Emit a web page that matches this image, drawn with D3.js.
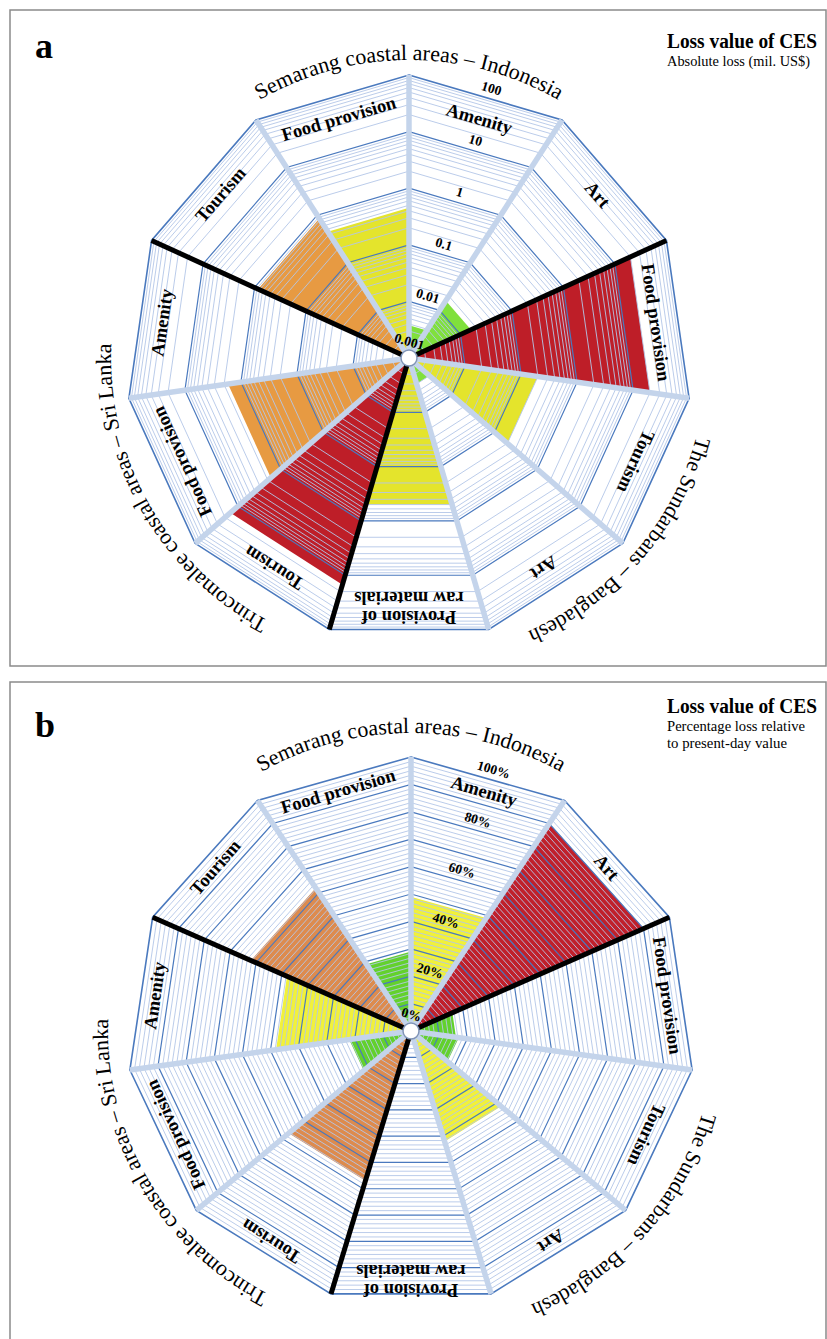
<!DOCTYPE html>
<html>
<head>
<meta charset="utf-8">
<script src="https://cdn.jsdelivr.net/npm/d3@7"></script>
<style>
  body { margin: 0; background: #fff; }
  svg text { font-family: "Liberation Serif", "Times New Roman", serif; }
</style>
</head>
<body>
<div id="chart"></div>
<script>
// sectors, clockwise from 12 o'clock
const sectorNames = ['Amenity', 'Art', 'Food provision', 'Tourism', 'Art',
  ['Provision of', 'raw materials'], 'Tourism', 'Food provision', 'Amenity', 'Tourism', 'Food provision']
const regionNames = ['Semarang coastal areas \u2013 Indonesia', 'The Sundarbans \u2013 Bangladesh',
  'Trincomalee coastal areas \u2013 Sri Lanka']
const regionSectors = [[9, 10, 0, 1], [2, 3, 4, 5], [6, 7, 8]]

// panel a: absolute loss (mil. US$), log scale
const absoluteLoss = [0.0038, 0.016, 20, 0.2, 0.003, 0.5, 15, 1.7, null, 0.85, 0.45]
const absoluteClass = ['green', 'green', 'red', 'yellow', 'green', 'yellow', 'red', 'orange', null, 'orange', 'yellow']
const absoluteTicks = [0.001, 0.01, 0.1, 1, 10, 100]
const absoluteTickLabels = ['0.001', '0.01', '0.1', '1', '10', '100']

// panel b: percentage loss relative to present-day value
const percentLoss = [49, 90, 16, 17, 42, null, 57, 22, 48, 62, 29]
const percentClass = ['yellow', 'red', 'green', 'green', 'yellow', null, 'orange', 'green', 'yellow', 'orange', 'green']
const percentTicks = [0, 20, 40, 60, 80, 100]
const percentTickLabels = ['0%', '20%', '40%', '60%', '80%', '100%']

const N = sectorNames.length
const step = 2 * Math.PI / N
const deg = 180 / Math.PI

const svg = d3.select('#chart')
    .append('svg')
    .attr('width', 827)
    .attr('height', 1339)

function drawPanel(p) {
    const g = svg.append('g')
    const pt = (a, t) => [p.cx + t * p.rx * Math.sin(a), p.cy - t * p.ry * Math.cos(a)]
    const ring = t => 'M' + d3.range(N).map(i => pt(i * step, t).join(',')).join('L') + 'Z'
    const boundaries = regionSectors.map(s => s[0])

    g.append('rect')
        .attr('x', 10).attr('y', p.frameY)
        .attr('width', 816).attr('height', p.frameH)
        .attr('fill', 'none').attr('stroke', '#8a8a8a').attr('stroke-width', 1.5)

    // filled wedges
    const fills = p.values.map((v, i) => ({ v, i, c: p.classes[i] })).filter(d => d.v != null)
    g.selectAll('path.wedge')
        .data(fills)
        .join('path')
        .attr('class', 'wedge')
        .attr('d', d => {
            const t = p.scale(d.v)
            return 'M' + [p.cx, p.cy] + 'L' + pt(d.i * step, t) + 'L' + pt((d.i + 1) * step, t) + 'Z'
        })
        .attr('fill', d => p.palette[d.c])

    // grid rings
    g.selectAll('path.minor')
        .data(p.minor)
        .join('path')
        .attr('d', v => ring(p.scale(v)))
        .attr('fill', 'none').attr('stroke', '#b3c6e8').attr('stroke-width', 0.9)

    g.selectAll('path.major')
        .data(p.major)
        .join('path')
        .attr('d', v => ring(p.scale(v)))
        .attr('fill', 'none').attr('stroke', '#4a79be')
        .attr('stroke-width', v => p.scale(v) >= 0.999 ? 1.6 : 1.2)

    // spokes, region boundaries in black on top
    const order = d3.range(N).sort((a, b) => boundaries.includes(a) - boundaries.includes(b))
    g.selectAll('line.spoke')
        .data(order)
        .join('line')
        .attr('x1', p.cx).attr('y1', p.cy)
        .attr('x2', i => pt(i * step, 1)[0])
        .attr('y2', i => pt(i * step, 1)[1])
        .attr('stroke', i => boundaries.includes(i) ? '#000' : '#c4d4eb')
        .attr('stroke-width', i => boundaries.includes(i) ? 5 : 5.5)

    g.append('circle')
        .attr('cx', p.cx).attr('cy', p.cy).attr('r', 8)
        .attr('fill', '#fff').attr('stroke', '#8094b6').attr('stroke-width', 1.5)

    // tick labels in the first sector
    const half = Math.cos(step / 2)
    g.selectAll('text.tick')
        .data(p.ticks)
        .join('text')
        .attr('transform', (v, k) => {
            const t = p.scale(v)
            const pos = t === 0 ? pt(0, 15 / p.ry) : pt(17 / deg, t * half + 9 / p.ry)
            return `translate(${pos}) rotate(16.4)`
        })
        .attr('text-anchor', 'middle')
        .attr('dominant-baseline', 'middle')
        .attr('font-size', 13.5).attr('font-weight', 'bold')
        .text((v, k) => p.tickLabels[k])

    // sector names
    const sl = g.selectAll('text.sector')
        .data(sectorNames)
        .join('text')
        .attr('transform', (d, i) => {
            const a = (i + 0.5) * step
            return `translate(${pt(a, p.labelT)}) rotate(${a * deg})`
        })
        .attr('text-anchor', 'middle')
        .attr('dominant-baseline', 'middle')
        .attr('font-size', 18.5).attr('font-weight', 'bold')
    sl.filter(d => typeof d === 'string').text(d => d)
    sl.filter(d => typeof d !== 'string').selectAll('tspan')
        .data(d => d)
        .join('tspan')
        .attr('x', 0)
        .attr('y', (d, k) => k === 0 ? -9.5 : 9.5)
        .text(d => d)

    // region names on arcs
    regionNames.forEach((name, k) => {
        const s = regionSectors[k]
        const c = (s[0] + s.length / 2) * step + p.regionShift[k] / deg
        const q = a => [p.cx + p.lrx * Math.sin(a), p.cy - p.lry * Math.cos(a)]
        const id = `arc-${p.id}-${k}`
        g.append('path')
            .attr('id', id)
            .attr('fill', 'none')
            .attr('d', `M${q(c - 1.5)}A${p.lrx},${p.lry} 0 0 1 ${q(c + 1.5)}`)
        g.append('text')
            .attr('font-size', 22)
            .append('textPath')
            .attr('href', '#' + id)
            .attr('startOffset', '50%')
            .attr('text-anchor', 'middle')
            .text(name)
    })

    g.append('text')
        .attr('x', 35).attr('y', p.letterY)
        .attr('font-size', 36).attr('font-weight', 'bold')
        .text(p.letter)

    g.append('text')
        .attr('x', 667).attr('y', p.titleY)
        .attr('font-size', 20).attr('font-weight', 'bold')
        .attr('textLength', 150).attr('lengthAdjust', 'spacingAndGlyphs')
        .text('Loss value of CES')

    p.subtitle.forEach((line, k) => {
        g.append('text')
            .attr('x', 667).attr('y', p.titleY + 18 + k * 17)
            .attr('font-size', 14)
            .attr('textLength', p.subtitleLength[k]).attr('lengthAdjust', 'spacingAndGlyphs')
            .text(line)
    })
}

const logMinor = d3.range(-3, 2).flatMap(e => d3.range(2, 10).map(k => k * Math.pow(10, e)))
const pctMinor = d3.range(0, 60).filter(k => k % 6 !== 0).map(k => k * 10 / 6)

drawPanel({
    id: 'a', letter: 'a', letterY: 58, titleY: 48, frameY: 10, frameH: 656,
    subtitle: ['Absolute loss (mil. US$)'], subtitleLength: [143],
    cx: 409, cy: 358, rx: 283, ry: 283, labelT: 0.875, lrx: 298, lry: 298,
    regionShift: [0, 0, -5],
    scale: d3.scaleLog().domain([0.001, 100]).range([0, 1]),
    minor: logMinor, major: [0.01, 0.1, 1, 10, 100],
    values: absoluteLoss, classes: absoluteClass,
    ticks: absoluteTicks, tickLabels: absoluteTickLabels,
    palette: { green: '#80e03c', yellow: '#e4e42c', orange: '#e79a42', red: '#be1e28' }
})

drawPanel({
    id: 'b', letter: 'b', letterY: 737, titleY: 713, frameY: 682, frameH: 700,
    subtitle: ['Percentage loss relative', 'to present-day value'], subtitleLength: [138, 120],
    cx: 411, cy: 1031, rx: 284, ry: 274, labelT: 0.905, lrx: 303, lry: 298,
    regionShift: [0, 0, -5],
    scale: d3.scaleLinear().domain([0, 100]).range([0, 1]),
    minor: pctMinor, major: d3.range(10, 101, 10),
    values: percentLoss, classes: percentClass,
    ticks: percentTicks, tickLabels: percentTickLabels,
    palette: { green: '#63d12d', yellow: '#f1f13a', orange: '#dd8b4e', red: '#c0202b' }
})
</script>
</body>
</html>
